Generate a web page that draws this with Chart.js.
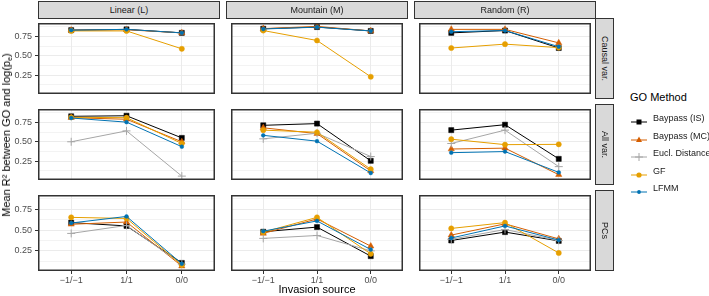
<!DOCTYPE html>
<html><head><meta charset="utf-8">
<script src="https://cdn.jsdelivr.net/npm/chart.js@4"></script>
<style>
body{margin:0;width:709px;height:296px;background:#fff;position:relative;overflow:hidden;font-family:"Liberation Sans",Arial,sans-serif;}
canvas{position:absolute;}
.strip{position:absolute;background:#D9D9D9;border:1px solid #333;box-sizing:border-box;color:#1A1A1A;font-size:9px;display:flex;align-items:center;justify-content:center;white-space:nowrap;}
.vstrip{writing-mode:vertical-rl;}
.txt{position:absolute;white-space:nowrap;}
</style></head><body>
<script>
// ---------- data ----------
const sources = ['\u22121/\u22121', '1/1', '0/0'];
const landscapes = ['Linear (L)', 'Mountain (M)', 'Random (R)'];
const varSets = ['Causal var.', 'All var.', 'PCs'];
const methods = ['Baypass (IS)', 'Baypass (MC)', 'Eucl. Distance', 'GF', 'LFMM'];
const yTickValues = [0.125, 0.25, 0.375, 0.5, 0.625, 0.75, 0.875];

// each array: [Linear, Mountain, Random] x [-1/-1, 1/1, 0/0]
const causal_IS   = [[0.83, 0.84, 0.795], [0.848, 0.87, 0.82], [0.795, 0.825, 0.60]];
const causal_MC   = [[0.83, 0.835, 0.795], [0.85, 0.878, 0.82], [0.84, 0.84, 0.666]];
const causal_Eucl = [[null, null, null], [null, null, null], [null, null, null]];
const causal_GF   = [[0.82, 0.82, 0.59], [0.825, 0.697, 0.23], [0.60, 0.65, 0.605]];
const causal_LFMM = [[0.83, 0.84, 0.795], [0.845, 0.868, 0.82], [0.81, 0.825, 0.617]];

const all_IS   = [[0.828, 0.835, 0.55], [0.712, 0.734, 0.255], [0.65, 0.72, 0.28]];
const all_MC   = [[0.81, 0.79, 0.50], [0.68, 0.605, 0.125], [0.407, 0.418, 0.076]];
const all_Eucl = [[0.50, 0.64, 0.058], [0.538, 0.61, 0.31], [0.478, 0.65, 0.18]];
const all_GF   = [[0.815, 0.81, 0.478], [0.65, 0.623, 0.147], [0.533, 0.463, 0.467]];
const all_LFMM = [[0.806, 0.753, 0.437], [0.583, 0.508, 0.098], [0.36, 0.374, 0.106]];

const pcs_IS   = [[0.59, 0.55, 0.105], [0.48, 0.536, 0.187], [0.375, 0.476, 0.37]];
const pcs_MC   = [[0.57, 0.597, 0.067], [0.46, 0.634, 0.307], [0.44, 0.575, 0.394]];
const pcs_Eucl = [[0.46, 0.556, 0.09], [0.40, 0.435, 0.25], [0.39, 0.507, 0.375]];
const pcs_GF   = [[0.653, 0.64, 0.08], [0.475, 0.653, 0.214], [0.52, 0.59, 0.225]];
const pcs_LFMM = [[0.585, 0.664, 0.095], [0.487, 0.61, 0.266], [0.405, 0.55, 0.38]];

const table = [
  [causal_IS, causal_MC, causal_Eucl, causal_GF, causal_LFMM],
  [all_IS, all_MC, all_Eucl, all_GF, all_LFMM],
  [pcs_IS, pcs_MC, pcs_Eucl, pcs_GF, pcs_LFMM]
];

// ---------- styles ----------
const colors = ['#000000', '#D55E00', '#A6A6A6', '#E69F00', '#0072B2'];
const pStyles = ['rect', 'triangle', 'cross', 'circle', 'circle'];
const pRadius = [3.6, 3.6, 4, 2.6, 1.9];

const colLeft = [38, 226, 414], panelW = 182;
const rowTop = [18, 104, 190], panelH = 81;
const YW = 38, XH = 16;
const FONT = '"Liberation Sans", Arial, sans-serif';

const isMajor = v => Math.abs(v * 4 - Math.round(v * 4)) < 1e-6;

const borderPlugin = {
  id: 'panelBorder',
  afterDraw(chart) {
    const a = chart.chartArea, c = chart.ctx;
    c.save();
    c.strokeStyle = '#333333';
    c.lineWidth = 1.5;
    c.strokeRect(a.left + 0.75, a.top + 0.75, a.right - a.left - 1.5, a.bottom - a.top - 1.5);
    c.restore();
  }
};

function el(tag, cls, style, html) {
  const e = document.createElement(tag);
  if (cls) e.className = cls;
  Object.assign(e.style, style);
  if (html !== undefined) e.innerHTML = html;
  document.body.appendChild(e);
  return e;
}

for (let r = 0; r < 3; r++) {
  for (let c = 0; c < 3; c++) {
    const showY = c === 0, showX = r === 2;
    const w = panelW + (showY ? YW : 0), h = panelH + (showX ? XH : 0);
    const cv = document.createElement('canvas');
    cv.width = w; cv.height = h;
    cv.style.left = (colLeft[c] - (showY ? YW : 0)) + 'px';
    cv.style.top = rowTop[r] + 'px';
    cv.style.width = w + 'px'; cv.style.height = h + 'px';
    document.body.appendChild(cv);

    const datasets = methods.map((m, k) => ({
      label: m,
      data: table[r][k][c].map((v, i) => ({ x: i, y: v })),
      borderColor: colors[k],
      backgroundColor: colors[k],
      borderWidth: 1,
      pointStyle: pStyles[k],
      pointRadius: pRadius[k],
      pointBorderWidth: k === 2 ? 1 : 0.5,
      pointBackgroundColor: colors[k],
      pointBorderColor: colors[k],
      tension: 0,
      order: 5 - k,
      spanGaps: false
    }));

    new Chart(cv, {
      type: 'line',
      data: { datasets },
      plugins: [borderPlugin],
      options: {
        responsive: false,
        animation: false,
        devicePixelRatio: 1,
        layout: { padding: 0 },
        plugins: { legend: { display: false }, tooltip: { enabled: false } },
        scales: {
          x: {
            type: 'linear', min: -0.6, max: 2.6,
            border: { display: false },
            grid: { color: '#EBEBEB', lineWidth: 1, drawTicks: showX, tickLength: 3, tickColor: '#333333', tickWidth: 1 },
            ticks: { display: showX, padding: 1, color: '#4D4D4D', font: { family: FONT, size: 9 },
              callback: v => sources[v] !== undefined ? sources[v] : '', maxRotation: 0, autoSkip: false },
            afterBuildTicks: s => { s.ticks = [0, 1, 2].map(v => ({ value: v })); },
            afterFit: s => { s.height = showX ? XH : 0; s.paddingLeft = 0; s.paddingRight = 0; s.paddingTop = 0; s.paddingBottom = 0; }
          },
          y: {
            type: 'linear', min: 0.008, max: 0.922,
            border: { display: false },
            grid: {
              color: '#EBEBEB',
              lineWidth: ctx => (ctx.tick && isMajor(ctx.tick.value)) ? 1 : 0.6,
              drawTicks: showY, tickLength: 3, tickWidth: 1,
              tickColor: ctx => (ctx.tick && isMajor(ctx.tick.value)) ? '#333333' : 'rgba(0,0,0,0)'
            },
            ticks: { display: showY, padding: 3, autoSkip: false, color: '#4D4D4D', font: { family: FONT, size: 9 },
              callback: v => isMajor(v) ? v.toFixed(2) : '' },
            afterBuildTicks: s => { s.ticks = yTickValues.map(v => ({ value: v })); },
            afterFit: s => { s.width = showY ? YW : 0; s.paddingLeft = 0; s.paddingRight = 0; s.paddingTop = 0; s.paddingBottom = 0; }
          }
        }
      }
    });
  }
}

// strips
landscapes.forEach((t, c) => {
  el('div', 'strip', { left: colLeft[c] + 'px', top: '1px', width: panelW + 'px', height: '18px' }, t);
});
varSets.forEach((t, r) => {
  el('div', 'strip vstrip', { left: '595px', top: rowTop[r] + 'px', width: '19px', height: panelH + 'px' }, t);
});

// axis titles
el('div', 'txt', { left: '317px', top: '283px', transform: 'translateX(-50%)', fontSize: '11px', lineHeight: '13px', color: '#000' }, 'Invasion source');
el('div', 'txt', { left: '7.5px', top: '135px', transform: 'translate(-50%,-50%) rotate(-90deg)', fontSize: '11px', lineHeight: '13px', color: '#000' },
  'Mean R\u00B2 between GO and log(p<sub style="font-size:7px;vertical-align:-2px">e</sub>)');

// legend
el('div', 'txt', { left: '630px', top: '91px', fontSize: '11px', lineHeight: '13px', color: '#000' }, 'GO Method');
const legY = [118, 135.5, 153, 170.5, 188];
function markerSvg(k) {
  const col = colors[k];
  let m = '';
  if (k === 0) m = `<rect x="5.5" y="2.5" width="5" height="5" fill="${col}"/>`;
  else if (k === 1) m = `<polygon points="8,1.5 11,7 5,7" fill="${col}"/>`;
  else if (k === 2) m = `<path d="M8,1 V9 M4,5 H12" stroke="${col}" stroke-width="1"/>`;
  else if (k === 3) m = `<circle cx="8" cy="5" r="2.6" fill="${col}"/>`;
  else m = `<circle cx="8" cy="5" r="1.9" fill="${col}"/>`;
  return `<svg width="16" height="10" viewBox="0 0 16 10"><line x1="0" y1="5" x2="16" y2="5" stroke="${col}" stroke-width="1"/>${m}</svg>`;
}
methods.forEach((m, k) => {
  el('div', 'txt', { left: '631px', top: (legY[k] - 5) + 'px', width: '16px', height: '10px' }, markerSvg(k));
  el('div', 'txt', { left: '653px', top: (legY[k] - 6) + 'px', fontSize: '9px', lineHeight: '12px', color: '#1A1A1A' }, m);
});
</script>
</body></html>
